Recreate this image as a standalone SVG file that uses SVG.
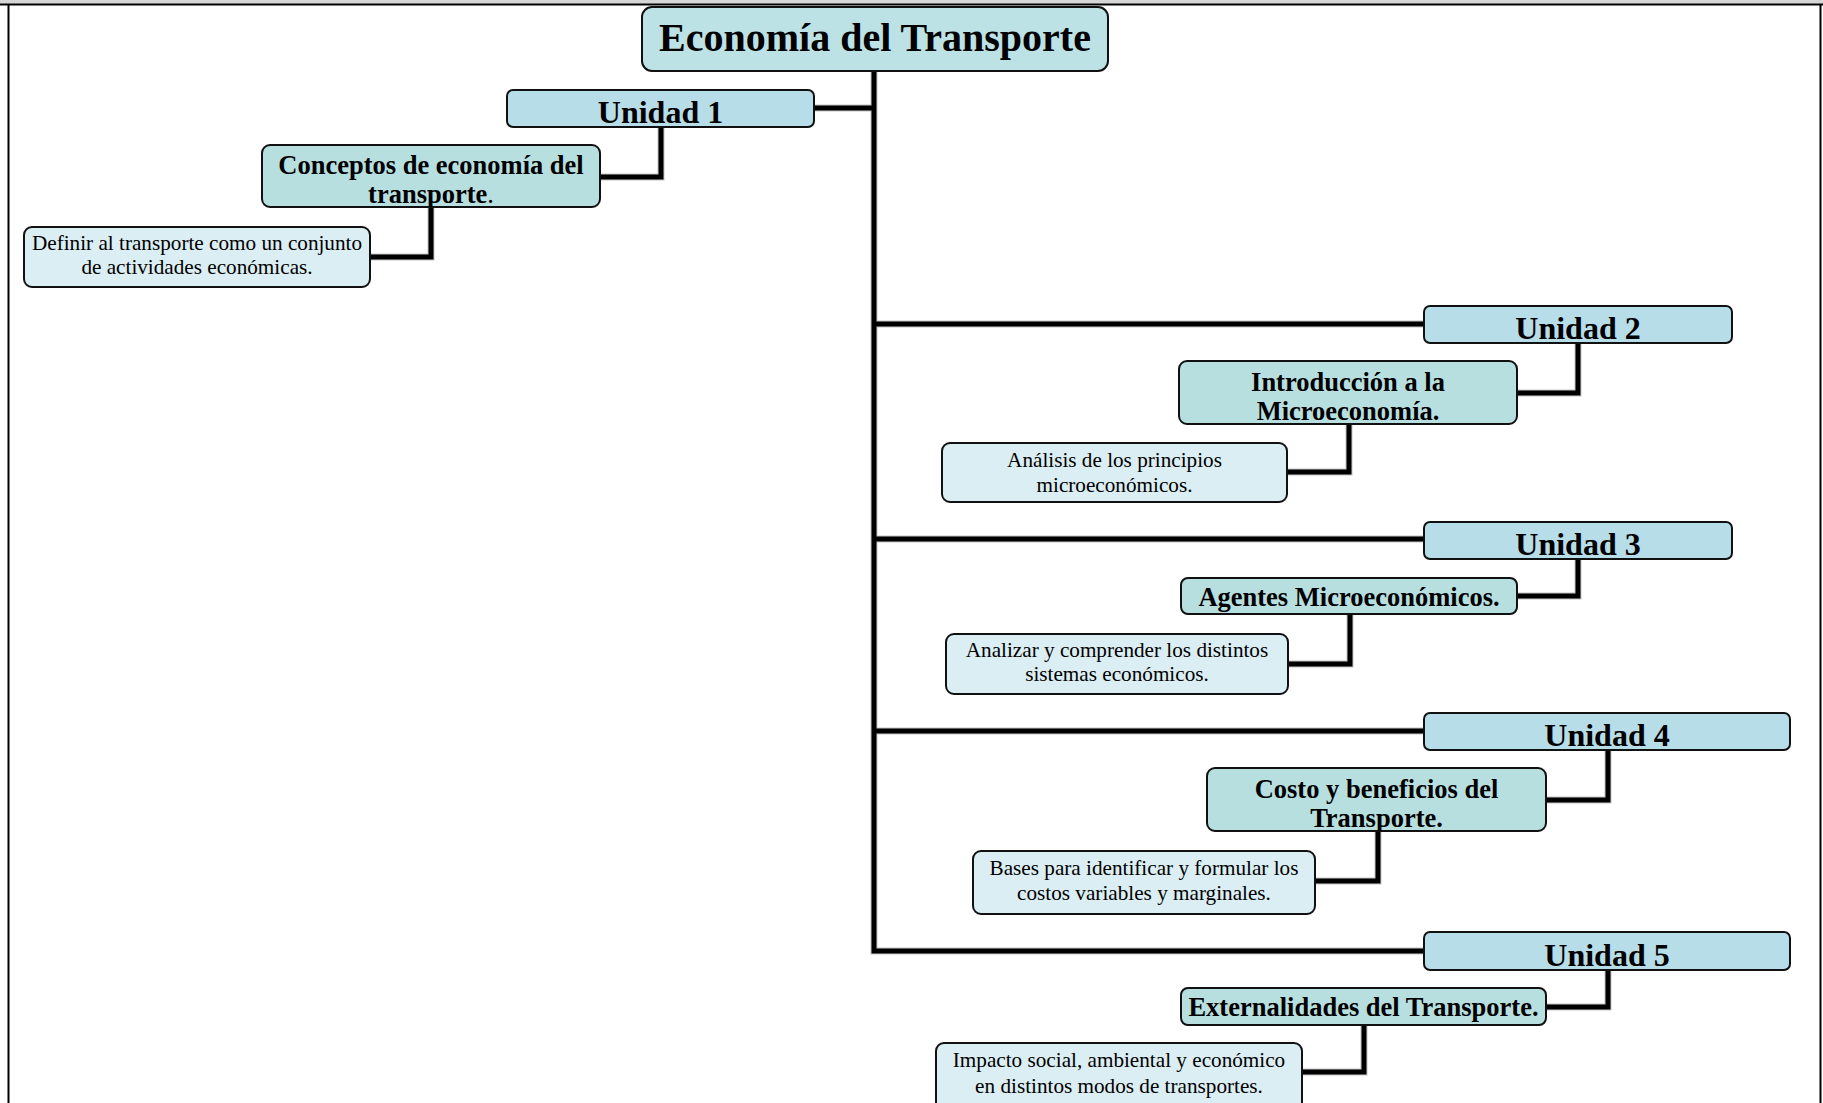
<svg xmlns="http://www.w3.org/2000/svg" width="1823" height="1103" viewBox="0 0 1823 1103">
<style>
  .t { font-family: "Liberation Serif", "Times New Roman", serif; text-anchor: middle; fill: #000; }
  .h0 { font-size: 40px; font-weight: bold; }
  .h1 { font-size: 32px; font-weight: bold; }
  .h2 { font-size: 26.5px; font-weight: bold; }
  .h3 { font-size: 21.2px; }
  .box { stroke: #111; stroke-width: 2; }
  .b0 { fill: #BCE2E6; }
  .b1 { fill: #B7DDE8; }
  .b2 { fill: #B7DFE0; }
  .b3 { fill: #DBEEF3; }
  .sh { fill: none; stroke: #8a8a8a; stroke-width: 7; stroke-linejoin: miter; }
  .ln { fill: none; stroke: #000; stroke-width: 5; stroke-linejoin: miter; }
</style>
<defs>
  <clipPath id="cp1"><rect x="262" y="145" width="338" height="62" rx="8"/></clipPath>
  <clipPath id="cp2"><rect x="1179" y="361" width="338" height="63" rx="8"/></clipPath>
  <clipPath id="cp4"><rect x="1207" y="768" width="339" height="63" rx="8"/></clipPath>
</defs>
<rect x="0" y="0" width="1823" height="1103" fill="#fff"/>
<g id="frame">
  <rect x="0" y="0" width="1823" height="4" fill="#D6D6D6"/>
  <line x1="0" y1="4.5" x2="1823" y2="4.5" stroke="#000" stroke-width="2"/>
  <line x1="8.5" y1="4" x2="8.5" y2="1103" stroke="#000" stroke-width="2"/>
  <line x1="1820.5" y1="4" x2="1820.5" y2="1103" stroke="#000" stroke-width="2"/>
</g>
<g id="connectors">
  <g class="sh" opacity="0.5">
    <path d="M874,71 V951 H1424"/>
    <path d="M814,108 H874"/>
    <path d="M874,324 H1424"/>
    <path d="M874,539 H1424"/>
    <path d="M874,731 H1424"/>
    <path d="M661,127 V177 H600"/>
    <path d="M431,207 V257 H370"/>
    <path d="M1578,343 V393 H1517"/>
    <path d="M1349,424 V472 H1287"/>
    <path d="M1578,559 V596 H1517"/>
    <path d="M1350,614 V664 H1288"/>
    <path d="M1608,750 V800 H1546"/>
    <path d="M1378,831 V881 H1315"/>
    <path d="M1608,970 V1007 H1546"/>
    <path d="M1364,1025 V1072 H1302"/>
  </g>
  <g class="ln">
    <path d="M874,71 V951 H1424"/>
    <path d="M814,108 H874"/>
    <path d="M874,324 H1424"/>
    <path d="M874,539 H1424"/>
    <path d="M874,731 H1424"/>
    <path d="M661,127 V177 H600"/>
    <path d="M431,207 V257 H370"/>
    <path d="M1578,343 V393 H1517"/>
    <path d="M1349,424 V472 H1287"/>
    <path d="M1578,559 V596 H1517"/>
    <path d="M1350,614 V664 H1288"/>
    <path d="M1608,750 V800 H1546"/>
    <path d="M1378,831 V881 H1315"/>
    <path d="M1608,970 V1007 H1546"/>
    <path d="M1364,1025 V1072 H1302"/>
  </g>
</g>
<g id="title">
  <rect class="box b0" x="642" y="7" width="466" height="64" rx="10"/>
  <text class="t h0" x="875" y="51">Economía del Transporte</text>
</g>
<g id="unidad1">
  <rect class="box b1" x="507" y="90" width="307" height="37" rx="6"/>
  <text class="t h1" x="660.5" y="123">Unidad 1</text>
</g>
<g id="conceptos">
  <rect class="box b2" x="262" y="145" width="338" height="62" rx="8"/>
  <g clip-path="url(#cp1)">
    <text class="t h2" x="431" y="174">Conceptos de economía del</text>
    <text class="t h2" x="431" y="203">transporte<tspan font-weight="normal">.</tspan></text>
  </g>
</g>
<g id="definir">
  <rect class="box b3" x="24" y="227" width="346" height="60" rx="8"/>
  <text class="t h3" x="197" y="250">Definir al transporte como un conjunto</text>
  <text class="t h3" x="197" y="274">de actividades económicas.</text>
</g>
<g id="unidad2">
  <rect class="box b1" x="1424" y="306" width="308" height="37" rx="6"/>
  <text class="t h1" x="1578" y="339">Unidad 2</text>
</g>
<g id="introduccion">
  <rect class="box b2" x="1179" y="361" width="338" height="63" rx="8"/>
  <g clip-path="url(#cp2)">
    <text class="t h2" x="1348" y="391">Introducción a la</text>
    <text class="t h2" x="1348" y="420">Microeconomía.</text>
  </g>
</g>
<g id="analisis">
  <rect class="box b3" x="942" y="443" width="345" height="59" rx="8"/>
  <text class="t h3" x="1114.5" y="467">Análisis de los principios</text>
  <text class="t h3" x="1114.5" y="492">microeconómicos.</text>
</g>
<g id="unidad3">
  <rect class="box b1" x="1424" y="522" width="308" height="37" rx="6"/>
  <text class="t h1" x="1578" y="555">Unidad 3</text>
</g>
<g id="agentes">
  <rect class="box b2" x="1181" y="578" width="336" height="36" rx="7"/>
  <text class="t h2" x="1349" y="606">Agentes Microeconómicos.</text>
</g>
<g id="analizar">
  <rect class="box b3" x="946" y="634" width="342" height="60" rx="8"/>
  <text class="t h3" x="1117" y="657">Analizar y comprender los distintos</text>
  <text class="t h3" x="1117" y="681">sistemas económicos.</text>
</g>
<g id="unidad4">
  <rect class="box b1" x="1424" y="713" width="366" height="37" rx="6"/>
  <text class="t h1" x="1607" y="746">Unidad 4</text>
</g>
<g id="costo">
  <rect class="box b2" x="1207" y="768" width="339" height="63" rx="8"/>
  <g clip-path="url(#cp4)">
    <text class="t h2" x="1376.5" y="798">Costo y beneficios del</text>
    <text class="t h2" x="1376.5" y="827">Transporte.</text>
  </g>
</g>
<g id="bases">
  <rect class="box b3" x="973" y="851" width="342" height="63" rx="8"/>
  <text class="t h3" x="1144" y="875">Bases para identificar y formular los</text>
  <text class="t h3" x="1144" y="900">costos variables y marginales.</text>
</g>
<g id="unidad5">
  <rect class="box b1" x="1424" y="932" width="366" height="38" rx="6"/>
  <text class="t h1" x="1607" y="966">Unidad 5</text>
</g>
<g id="externalidades">
  <rect class="box b2" x="1181" y="988" width="365" height="37" rx="7"/>
  <text class="t h2" x="1363.5" y="1016">Externalidades del Transporte.</text>
</g>
<g id="impacto">
  <rect class="box b3" x="936" y="1043" width="366" height="72" rx="8"/>
  <text class="t h3" x="1119" y="1067">Impacto social, ambiental y económico</text>
  <text class="t h3" x="1119" y="1093">en distintos modos de transportes.</text>
</g>
</svg>
